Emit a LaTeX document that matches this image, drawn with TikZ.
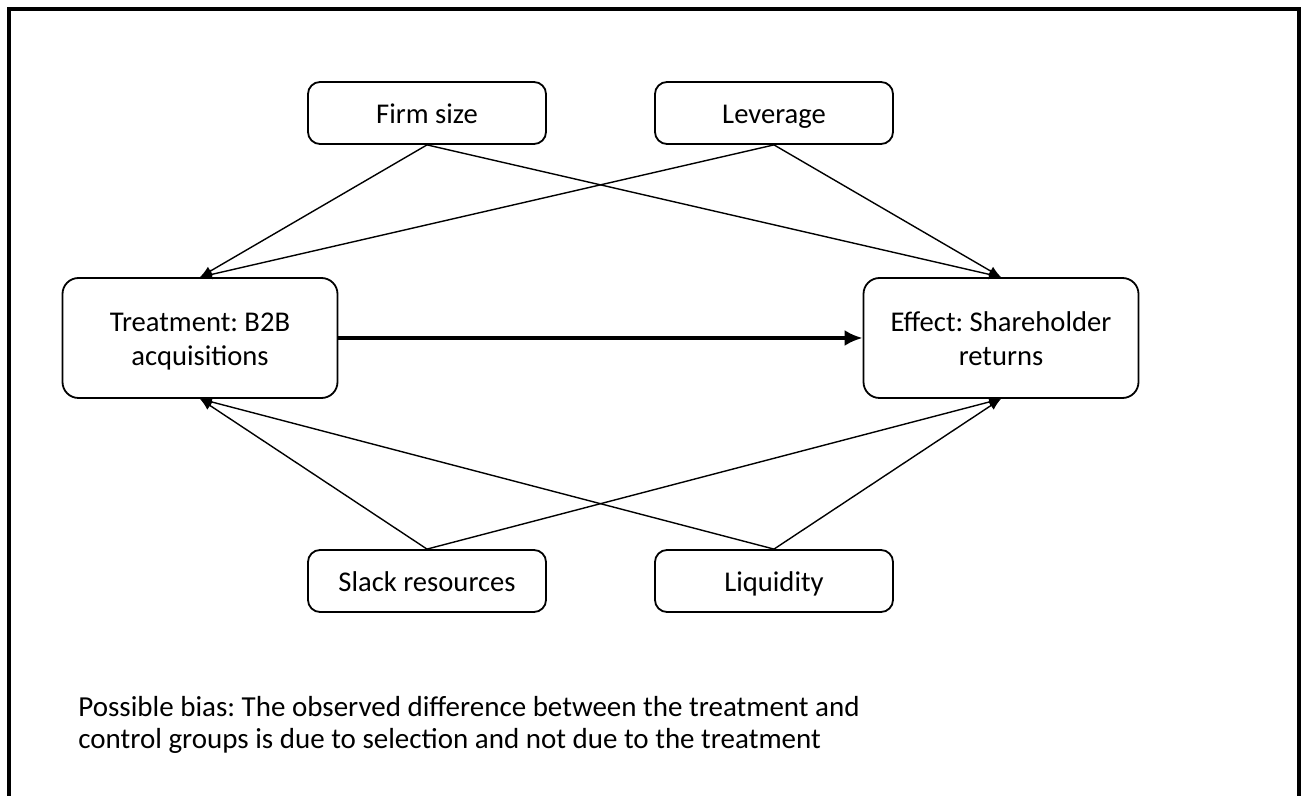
\documentclass[tikz,border=0pt]{standalone}
\usepackage{fontspec}
\setmainfont{Carlito}
\usepackage{tikz}
\usetikzlibrary{arrows.meta}
\frenchspacing

\tikzset{
  box/.style={draw, line width=0.9pt, rounded corners=6pt, inner sep=0pt,
    font=\fontsize{14.3}{17}\selectfont},
  factor/.style={box, minimum width=119pt, minimum height=31pt,
    text height=12pt, text depth=1pt},
  outcome/.style={box, minimum width=137.5pt, minimum height=60pt,
    rounded corners=8pt, align=center, text height=30pt, text depth=2pt},
  link/.style={line width=0.7pt, -{Latex[length=6pt,width=5pt]}},
  mainlink/.style={line width=2.2pt, -{Latex[length=9pt,width=8pt]}}
}

\begin{document}
\begin{tikzpicture}[x=0.5pt,y=-0.5pt]
				\useasboundingbox (0,0) rectangle (1303,796);
				\draw[line width=1.6pt] (9,796) -- (9,9) -- (1299,9) -- (1299,796);
				\node[factor] (size) at (427,113) {Firm size};
				\node[factor] (lev) at (774,113) {Leverage};
				\node[outcome] (treat) at (200,338) {Treatment: B2B\\acquisitions};
				\node[outcome] (eff) at (1001,338) {Effect: Shareholder\\returns};
				\node[factor] (slack) at (427,581) {Slack resources};
				\node[factor] (liq) at (774,581) {Liquidity};
				\draw[mainlink] (treat) -- (eff);
				\draw[link] (size.south) -- (treat.north);
				\draw[link] (size.south) -- (eff.north);
				\draw[link] (lev.south) -- (treat.north);
				\draw[link] (lev.south) -- (eff.north);
				\draw[link] (slack.north) -- (treat.south);
				\draw[link] (slack.north) -- (eff.south);
				\draw[link] (liq.north) -- (treat.south);
				\draw[link] (liq.north) -- (eff.south);
				\node[anchor=north west, inner sep=0pt, align=left,
					font=\fontsize{14.5}{16}\selectfont] (bias) at (78,696)
					{Possible bias: The observed difference between the treatment and\\control groups is due to selection and not due to the treatment};
			\end{tikzpicture}
\end{document}
